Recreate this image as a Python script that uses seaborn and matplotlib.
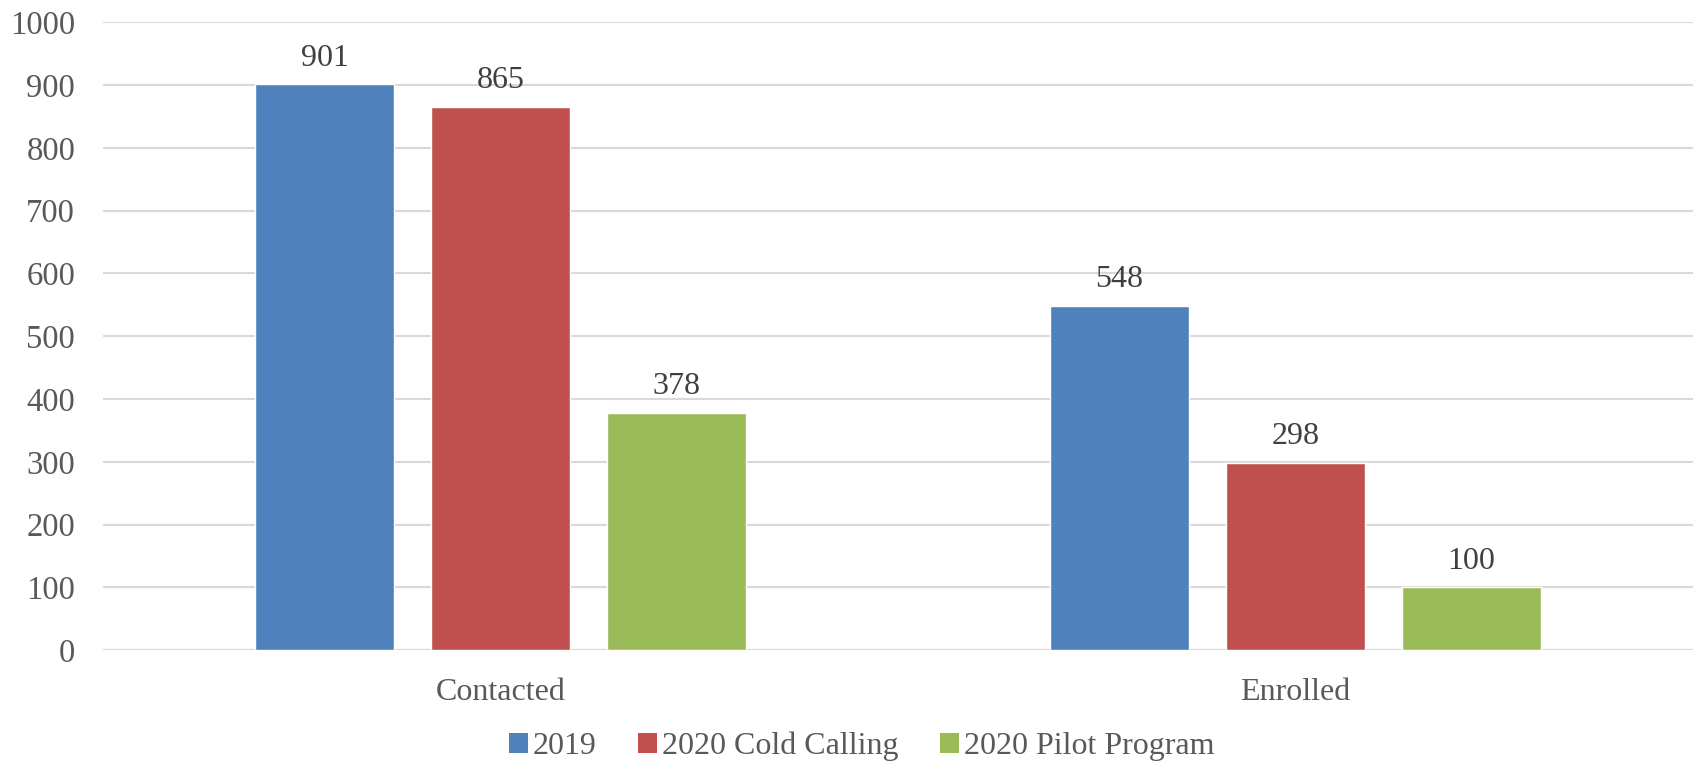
import matplotlib
matplotlib.use("Agg")
import matplotlib.pyplot as plt
import seaborn as sns
import pandas as pd
from matplotlib.patches import Patch

categories = ["Contacted", "Enrolled"]
series = ["2019", "2020 Cold Calling", "2020 Pilot Program"]
values_2019 = [901, 548]
values_cold = [865, 298]
values_pilot = [378, 100]
colors = ["#4f81bd", "#c0504d", "#9bbb59"]
y_ticks = [0, 100, 200, 300, 400, 500, 600, 700, 800, 900, 1000]

df = pd.DataFrame({
    "category": categories * 3,
    "series": [s for s in series for _ in categories],
    "value": values_2019 + values_cold + values_pilot,
})

sns.set_theme(style="white")
plt.rcParams["font.family"] = ["Liberation Serif", "DejaVu Serif"]

fig = plt.figure(figsize=(16.96, 7.64), dpi=100)
ax = fig.add_axes([0.0607, 0.149, 0.9373, 0.822])

sns.barplot(data=df, x="category", y="value", hue="series", hue_order=series,
            order=categories, palette=colors, width=0.664, gap=0.21,
            saturation=1, ax=ax, legend=False, zorder=3)

for cont in ax.containers:
    for bar in cont:
        h = bar.get_height()
        ax.annotate(f"{h:.0f}", (bar.get_x() + bar.get_width() / 2, h),
                    xytext=(0, 8.5), textcoords="offset points",
                    ha="center", va="bottom", fontsize=23, color="#404040")

ax.set_xlim(-0.5, 1.5)
ax.set_ylim(0, 1000)
ax.set_yticks(y_ticks)
ax.yaxis.grid(True, color="#d9d9d9", linewidth=1.5, zorder=0)
ax.set_axisbelow(True)
for s in ax.spines.values():
    s.set_visible(False)
ax.axhline(0, color="#d9d9d9", linewidth=1.5, zorder=1)
ax.tick_params(axis="y", length=0, pad=20, labelsize=23.5, labelcolor="#595959")
ax.tick_params(axis="x", length=0, pad=20, labelsize=23, labelcolor="#595959")
ax.set_xlabel("")
ax.set_ylabel("")

handles = [Patch(facecolor=c, edgecolor="none") for c in colors]
fig.legend(handles, series, loc="center", bbox_to_anchor=(0.508, 0.023),
           ncol=3, frameon=False, fontsize=23, labelcolor="#595959",
           handlelength=0.6, handleheight=0.6, handletextpad=0.15,
           columnspacing=1.3)

fig.savefig("out.png", dpi=100, facecolor="white")
